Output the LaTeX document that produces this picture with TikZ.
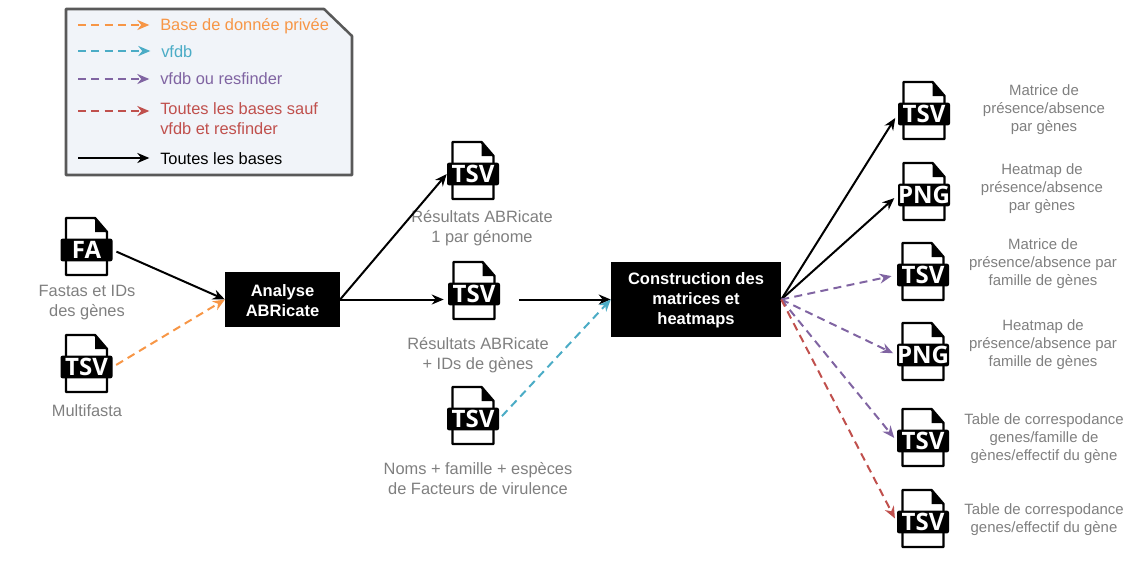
\documentclass[tikz,border=0pt]{standalone}
\usepackage{fontspec}
\setmainfont{Liberation Sans}
\newfontfamily\badgefont{Open Sans}
\usepackage{xcolor}
\usetikzlibrary{arrows.meta}

\definecolor{privcol}{HTML}{F79646}
\definecolor{vfdbcol}{HTML}{4BACC6}
\definecolor{resfcol}{HTML}{8064A2}
\definecolor{saufcol}{HTML}{C0504D}
\definecolor{lblcol}{HTML}{7F7F7F}
\definecolor{legfill}{HTML}{F1F4F9}
\definecolor{legedge}{HTML}{595959}

\tikzset{
  link/.style={line width=1.5pt,-{Stealth[length=9pt,width=7.5pt]}},
  dashlink/.style={link,dash pattern=on 6pt off 4pt},
  block/.style={fill=black,text=white,inner sep=0pt,align=center,
    font=\fontsize{12.4}{15}\selectfont\bfseries},
  badge/.style={fill=black,text=white,rounded corners=1.5pt,inner sep=0pt,
    minimum width=39pt,minimum height=17pt,font=\badgefont\fontsize{18}{18}\selectfont\bfseries},
  page/.style={draw=black,fill=white,line width=1.8pt,line join=round},
  lbl/.style={text=lblcol,align=center,inner sep=0pt,font=\fontsize{12.3}{15}\selectfont},
  smalllbl/.style={text=lblcol,align=center,inner sep=0pt,font=\fontsize{11.2}{13.5}\selectfont},
  legtxt/.style={anchor=west,align=left,inner sep=0pt,font=\fontsize{12.3}{15}\selectfont}
}

% name, x, y, text
\newcommand{\fileicon}[4]{
  \begin{scope}[shift={(#2,#3)}]
    \draw[page] (-20.5,-32) -- (8.5,-32) -- (20.5,-18) -- (20.5,25) -- (-20.5,25) -- cycle;
    \fill[black] (8.5,-32) -- (20.5,-18) -- (8.5,-18) -- cycle;
  \end{scope}
  \node[badge] (#1) at (#2,#3) {#4};
}

\begin{document}
\begin{tikzpicture}[x=0.75pt,y=-0.75pt]
  \useasboundingbox (0,0) rectangle (1137,572);

  % legende
  \draw[fill=legfill,draw=legedge,line width=1.9pt,line join=round]
    (66,9) -- (324,9) -- (352,36) -- (352,175) -- (66,175) -- cycle;
  \coordinate (legA) at (78,25);
  \coordinate (legB) at (78,51);
  \coordinate (legC) at (78,79);
  \coordinate (legD) at (78,111);
  \coordinate (legE) at (78,158);
  \node[legtxt,text=privcol] (txtA) at (160,26) {Base de donnée privée};
  \node[legtxt,text=vfdbcol] (txtB) at (161,52) {vfdb};
  \node[legtxt,text=resfcol] (txtC) at (160,79) {vfdb ou resfinder};
  \node[legtxt,text=saufcol] (txtD) at (160,119) {Toutes les bases sauf\\vfdb et resfinder};
  \node[legtxt,text=black]   (txtE) at (160,158.5) {Toutes les bases};
  \draw[dashlink,privcol,shorten >=8pt] (legA) -- (txtA.west |- legA);
  \draw[dashlink,vfdbcol,shorten >=8pt] (legB) -- (txtB.west |- legB);
  \draw[dashlink,resfcol,shorten >=8pt] (legC) -- (txtC.west |- legC);
  \draw[dashlink,saufcol,shorten >=8pt] (legD) -- (txtD.west |- legD);
  \draw[link,shorten >=8pt] (legE) -- (txtE.west |- legE);

  % entrees
  \fileicon{fa}{86.5}{250}{FA}
  \fileicon{multi}{86.5}{367}{TSV}
  \node[lbl] (faL) at (87,303) {Fastas et IDs\\des gènes};
  \node[lbl] (multiL) at (87,411) {Multifasta};

  \node[block,minimum width=86pt,minimum height=41.5pt] (abr) at (282.5,299.5) {\\[-4.5pt]Analyse\\ABRicate};

  % milieu
  \fileicon{resA}{473}{174}{TSV}
  \fileicon{resB}{474}{294}{TSV}
  \fileicon{noms}{473}{419}{TSV}
  \node[lbl] (resAL) at (482,228) {Résultats ABRicate\\1 par génome};
  \node[lbl] (resBL) at (478,355) {Résultats ABRicate\\+ IDs de gènes};
  \node[lbl] (nomsL) at (478,479) {Noms + famille + espèces\\de Facteurs de virulence};

  \node[block,minimum width=127.5pt,minimum height=56pt] (mat) at (696,299.5) {\\[-4.5pt]Construction des\\matrices et\\heatmaps};

  % sorties
  \fileicon{outA}{924}{114}{TSV}
  \fileicon{outB}{924}{195}{PNG}
  \fileicon{outC}{923}{275}{TSV}
  \fileicon{outD}{923}{355}{PNG}
  \fileicon{outE}{923}{441}{TSV}
  \fileicon{outF}{923}{522}{TSV}
  \node[smalllbl] (outAL) at (1044,110) {Matrice de\\présence/absence\\par gènes};
  \node[smalllbl] (outBL) at (1042,188.5) {Heatmap de\\présence/absence\\par gènes};
  \node[smalllbl] (outCL) at (1043,263.5) {Matrice de\\présence/absence par\\famille de gènes};
  \node[smalllbl] (outDL) at (1043,344.5) {Heatmap de\\présence/absence par\\famille de gènes};
  \node[smalllbl] (outEL) at (1044,438.5) {Table de correspodance\\genes/famille de\\gènes/effectif du gène};
  \node[smalllbl] (outFL) at (1044,519.5) {Table de correspodance\\genes/effectif du gène};

  \draw[link,shorten <=3pt] (fa.east) -- (abr.west);
  \draw[dashlink,privcol,shorten <=3pt] (multi.east) -- (abr.west);
  \draw[link] (abr.east) -- (resA.west);
  \draw[link,shorten >=3pt] (abr.east) -- (resB.west |- abr.east);
  \draw[link,shorten <=14pt] (resB.east |- mat.west) -- (mat.west);
  \draw[dashlink,vfdbcol,shorten <=3pt] (noms.east) -- (mat.west);
  \draw[link,shorten >=3.5pt] (mat.east) -- (outA.west);
  \draw[link,shorten >=3.5pt] (mat.east) -- (outB.west);
  \draw[dashlink,resfcol,shorten >=4pt] (mat.east) -- (outC.west);
  \draw[dashlink,resfcol,shorten >=3pt] (mat.east) -- (outD.west);
  \draw[dashlink,resfcol,shorten >=3pt] (mat.east) -- (outE.west);
  \draw[dashlink,saufcol,shorten >=3pt] (mat.east) -- (outF.west);
\end{tikzpicture}
\end{document}
